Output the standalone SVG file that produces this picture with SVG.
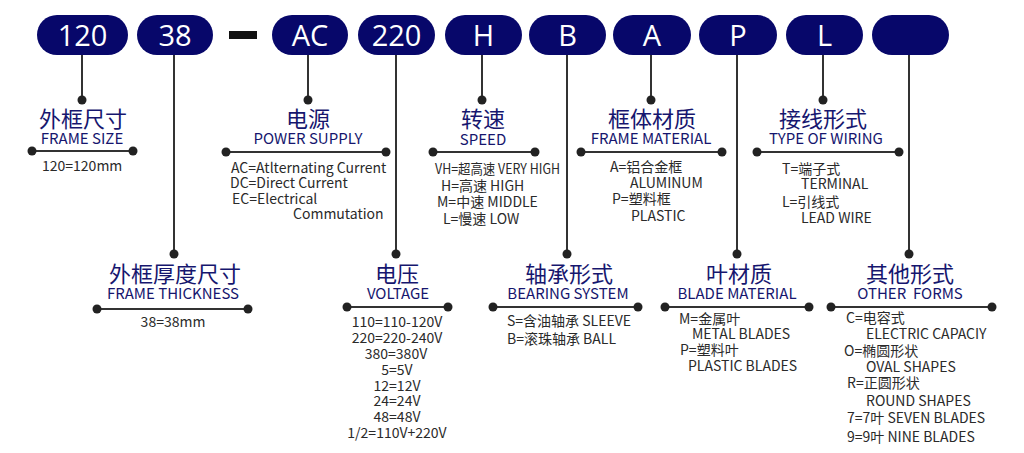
<svg xmlns="http://www.w3.org/2000/svg" width="1024" height="453" viewBox="0 0 1024 453">
<defs>
<style>
.pill{fill:#07076a}
.pt{font-family:"Open Sans","Noto Sans",sans-serif;font-size:29px;fill:#fff;text-anchor:middle}
.cn{font-family:"Noto Sans CJK SC",sans-serif;font-size:22px;fill:#16166e;text-anchor:middle}
.en{font-family:"Noto Sans CJK SC",sans-serif;font-size:15px;fill:#16166e;text-anchor:middle}
.bd{font-family:"Noto Sans CJK SC",sans-serif;font-size:14px;fill:#2a2a2a}
.mid{text-anchor:middle}
.ln{stroke:#333;stroke-width:2;fill:none}
.dot{fill:#222}
</style>
</defs>
<rect width="1024" height="453" fill="#fff"/>
<g id="pills">
<g id="p120"><rect class="pill" x="37" y="15" width="91" height="40" rx="20"/><text class="pt" x="82.5" y="46">120</text></g>
<g id="p38"><rect class="pill" x="137" y="15" width="76" height="40" rx="20"/><text class="pt" x="175" y="46">38</text></g>
<g id="dash"><rect x="229" y="31" width="28" height="8" fill="#111"/></g>
<g id="pAC"><rect class="pill" x="272" y="15" width="76" height="40" rx="20"/><text class="pt" x="310" y="46">AC</text></g>
<g id="p220"><rect class="pill" x="358" y="15" width="77" height="40" rx="20"/><text class="pt" x="396.5" y="46">220</text></g>
<g id="pH"><rect class="pill" x="445" y="15" width="77" height="40" rx="20"/><text class="pt" x="483.5" y="46">H</text></g>
<g id="pB"><rect class="pill" x="529" y="15" width="77" height="40" rx="20"/><text class="pt" x="567.5" y="46">B</text></g>
<g id="pA"><rect class="pill" x="613" y="15" width="78" height="40" rx="20"/><text class="pt" x="652" y="46">A</text></g>
<g id="pP"><rect class="pill" x="699" y="15" width="78" height="40" rx="20"/><text class="pt" x="738" y="46">P</text></g>
<g id="pL"><rect class="pill" x="786" y="15" width="77" height="40" rx="20"/><text class="pt" x="824.5" y="46">L</text></g>
<g id="pBlank"><rect class="pill" x="872" y="15" width="77" height="40" rx="20"/></g>
</g>
<g id="connectors">
<line class="ln" x1="82" y1="55" x2="82" y2="100"/><circle class="dot" cx="82" cy="100" r="4.5"/>
<line class="ln" x1="174" y1="55" x2="174" y2="254"/><circle class="dot" cx="174" cy="254" r="4.5"/>
<line class="ln" x1="308" y1="55" x2="308" y2="100"/><circle class="dot" cx="308" cy="100" r="4.5"/>
<line class="ln" x1="396" y1="55" x2="396" y2="254"/><circle class="dot" cx="396" cy="254" r="4.5"/>
<line class="ln" x1="482" y1="55" x2="482" y2="100"/><circle class="dot" cx="482" cy="100" r="4.5"/>
<line class="ln" x1="567" y1="55" x2="567" y2="254"/><circle class="dot" cx="567" cy="254" r="4.5"/>
<line class="ln" x1="651" y1="55" x2="651" y2="100"/><circle class="dot" cx="651" cy="100" r="4.5"/>
<line class="ln" x1="737" y1="55" x2="737" y2="254"/><circle class="dot" cx="737" cy="254" r="4.5"/>
<line class="ln" x1="823" y1="55" x2="823" y2="100"/><circle class="dot" cx="823" cy="100" r="4.5"/>
<line class="ln" x1="909" y1="55" x2="909" y2="254"/><circle class="dot" cx="909" cy="254" r="4.5"/>
</g>
<g id="frameSize">
<text class="cn" x="83" y="127">外框尺寸</text>
<text class="en" x="82" y="144">FRAME SIZE</text>
<line class="ln" x1="32" y1="151" x2="133" y2="151"/><circle class="dot" cx="32" cy="151" r="4.5"/><circle class="dot" cx="133" cy="151" r="4.5"/>
<text class="bd" x="42" y="171">120=120mm</text>
</g>
<g id="powerSupply">
<text class="cn" x="308" y="127">电源</text>
<text class="en" x="308" y="144">POWER SUPPLY</text>
<line class="ln" x1="226" y1="152" x2="386" y2="152"/><circle class="dot" cx="226" cy="152" r="4.5"/><circle class="dot" cx="386" cy="152" r="4.5"/>
<text class="bd" x="231" y="173">AC=Atlternating Current</text>
<text class="bd" x="230" y="188">DC=Direct Current</text>
<text class="bd" x="232" y="204">EC=Electrical</text>
<text class="bd" x="293" y="219">Commutation</text>
</g>
<g id="speed">
<text class="cn" x="483" y="127">转速</text>
<text class="en" x="483" y="145">SPEED</text>
<line class="ln" x1="433" y1="152" x2="535" y2="152"/><circle class="dot" cx="433" cy="152" r="4.5"/><circle class="dot" cx="535" cy="152" r="4.5"/>
<text class="bd" x="435" y="174" textLength="125" lengthAdjust="spacingAndGlyphs">VH=超高速 VERY HIGH</text>
<text class="bd" x="441" y="191">H=高速 HIGH</text>
<text class="bd" x="437" y="207">M=中速 MIDDLE</text>
<text class="bd" x="443" y="224">L=慢速 LOW</text>
</g>
<g id="frameMaterial">
<text class="cn" x="652" y="127">框体材质</text>
<text class="en" x="651" y="144">FRAME MATERIAL</text>
<line class="ln" x1="581" y1="152" x2="722" y2="152"/><circle class="dot" cx="581" cy="152" r="4.5"/><circle class="dot" cx="722" cy="152" r="4.5"/>
<text class="bd" x="610" y="172">A=铝合金框</text>
<text class="bd" x="630" y="188">ALUMINUM</text>
<text class="bd" x="612" y="204">P=塑料框</text>
<text class="bd" x="631" y="221">PLASTIC</text>
</g>
<g id="wiring">
<text class="cn" x="823" y="127">接线形式</text>
<text class="en" x="826" y="144">TYPE OF WIRING</text>
<line class="ln" x1="757" y1="152" x2="899" y2="152"/><circle class="dot" cx="757" cy="152" r="4.5"/><circle class="dot" cx="899" cy="152" r="4.5"/>
<text class="bd" x="782" y="174">T=端子式</text>
<text class="bd" x="801" y="189">TERMINAL</text>
<text class="bd" x="782" y="207">L=引线式</text>
<text class="bd" x="801" y="223">LEAD WIRE</text>
</g>
<g id="thickness">
<text class="cn" x="175" y="282">外框厚度尺寸</text>
<text class="en" x="173" y="299">FRAME THICKNESS</text>
<line class="ln" x1="97" y1="309" x2="248" y2="309"/><circle class="dot" cx="97" cy="309" r="4.5"/><circle class="dot" cx="248" cy="309" r="4.5"/>
<text class="bd mid" x="173" y="327">38=38mm</text>
</g>
<g id="voltage">
<text class="cn" x="397" y="282">电压</text>
<text class="en" x="398" y="299">VOLTAGE</text>
<line class="ln" x1="347" y1="307" x2="448" y2="307"/><circle class="dot" cx="347" cy="307" r="4.5"/><circle class="dot" cx="448" cy="307" r="4.5"/>
<text class="bd mid" x="397" y="327">110=110-120V</text>
<text class="bd mid" x="397" y="343">220=220-240V</text>
<text class="bd mid" x="396" y="359">380=380V</text>
<text class="bd mid" x="397" y="375">5=5V</text>
<text class="bd mid" x="397" y="391">12=12V</text>
<text class="bd mid" x="397" y="406">24=24V</text>
<text class="bd mid" x="397" y="422">48=48V</text>
<text class="bd mid" x="397" y="438">1/2=110V+220V</text>
</g>
<g id="bearing">
<text class="cn" x="569" y="282">轴承形式</text>
<text class="en" x="568" y="299">BEARING SYSTEM</text>
<line class="ln" x1="493" y1="307" x2="638" y2="307"/><circle class="dot" cx="493" cy="307" r="4.5"/><circle class="dot" cx="638" cy="307" r="4.5"/>
<text class="bd" x="507" y="326">S=含油轴承 SLEEVE</text>
<text class="bd" x="507" y="344">B=滚珠轴承 BALL</text>
</g>
<g id="bladeMaterial">
<text class="cn" x="739" y="282">叶材质</text>
<text class="en" x="737" y="299">BLADE MATERIAL</text>
<line class="ln" x1="665" y1="307" x2="809" y2="307"/><circle class="dot" cx="665" cy="307" r="4.5"/><circle class="dot" cx="809" cy="307" r="4.5"/>
<text class="bd" x="679" y="324">M=金属叶</text>
<text class="bd" x="692" y="339">METAL BLADES</text>
<text class="bd" x="680" y="355">P=塑料叶</text>
<text class="bd" x="688" y="371">PLASTIC BLADES</text>
</g>
<g id="otherForms">
<text class="cn" x="910" y="282">其他形式</text>
<text class="en" x="910" y="299" xml:space="preserve">OTHER  FORMS</text>
<line class="ln" x1="831" y1="307" x2="992" y2="307"/><circle class="dot" cx="831" cy="307" r="4.5"/><circle class="dot" cx="992" cy="307" r="4.5"/>
<text class="bd" x="846" y="323">C=电容式</text>
<text class="bd" x="866" y="339">ELECTRIC CAPACIY</text>
<text class="bd" x="844" y="356">O=椭圆形状</text>
<text class="bd" x="866" y="372">OVAL SHAPES</text>
<text class="bd" x="847" y="388">R=正圆形状</text>
<text class="bd" x="866" y="406">ROUND SHAPES</text>
<text class="bd" x="847" y="423">7=7叶 SEVEN BLADES</text>
<text class="bd" x="847" y="442">9=9叶 NINE BLADES</text>
</g>
</svg>
